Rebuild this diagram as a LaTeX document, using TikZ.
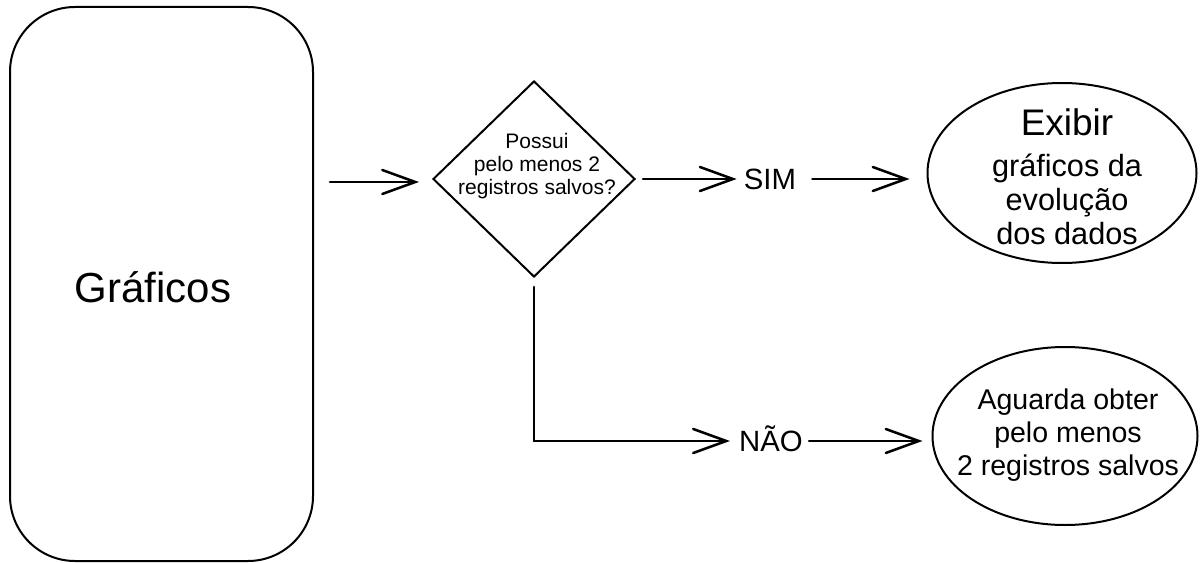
\documentclass[tikz,border=0pt]{standalone}
\usepackage{fontspec}
\setmainfont{Liberation Sans}
\usetikzlibrary{shapes.geometric,arrows.meta,calc}
\tikzset{
  shapeline/.style={draw=black, line width=1.5pt, inner sep=0pt},
  txt/.style={inner sep=0pt, align=center, text=black},
  lbl/.style={txt, font=\fontsize{22}{26}\selectfont, text height=15.75pt, text depth=0pt},
  flow/.style={draw=black, line width=1.9pt, line cap=round,
    -{Straight Barb[length=24.75pt,width=18pt,line cap=round]}},
}
\begin{document}
\begin{tikzpicture}[x=0.75pt,y=-0.75pt]
\useasboundingbox[fill=white] (0,0) rectangle (1200,563);

% main panel
\node[shapeline, rectangle, rounded corners=48.75pt,
      minimum width=227.25pt, minimum height=415.5pt] (panel) at (161.5,284) {};
\node[txt, anchor=base, font=\fontsize{31.5}{36}\selectfont] (paneltxt) at (153,302) {Gráficos};

% decision
\node[shapeline, diamond, minimum width=151.5pt, minimum height=147pt] (dec) at (534,179) {};
\node[txt, font=\fontsize{15.75}{17.25}\selectfont] (dectxt) at (537,166)
  {Possui\\pelo menos 2\\registros salvos?};

% branch labels
\node[lbl] (sim) at (770,179) {SIM};
\node[lbl] (nao) at (771,441) {NÃO};

% outcomes
\node[shapeline, ellipse, minimum width=201.75pt, minimum height=135pt] (show) at (1062,173) {};
\node[txt, font=\fontsize{23}{25.5}\selectfont] (showtxt) at (1067,177)
  {{\fontsize{27.75}{25.5}\selectfont Exibir}\\[5.25pt]gráficos da\\evolução\\dos dados};

\node[shapeline, ellipse, minimum width=198.75pt, minimum height=133.5pt] (wait) at (1065,436) {};
\node[txt, font=\fontsize{21.4}{24.75}\selectfont] (waittxt) at (1068,435)
  {Aguarda obter\\pelo menos\\2 registros salvos};

% connectors
\coordinate (start) at (330,182);
\draw[flow, shorten >=9.75pt] (start) -- (start -| dec.west);
\draw[flow, shorten <=5.25pt, shorten >=5.25pt] (dec.east) -- (dec.east -| sim.west);
\draw[flow, shorten <=12pt, shorten >=12.75pt] (sim.east) -- (sim.east -| show.west);
\draw[flow, shorten <=6.75pt, shorten >=6.75pt] (dec.south) |- (nao.west);
\draw[flow, shorten <=4.5pt, shorten >=6.75pt] (nao.east) -- (nao.east -| wait.west);
\end{tikzpicture}
\end{document}
